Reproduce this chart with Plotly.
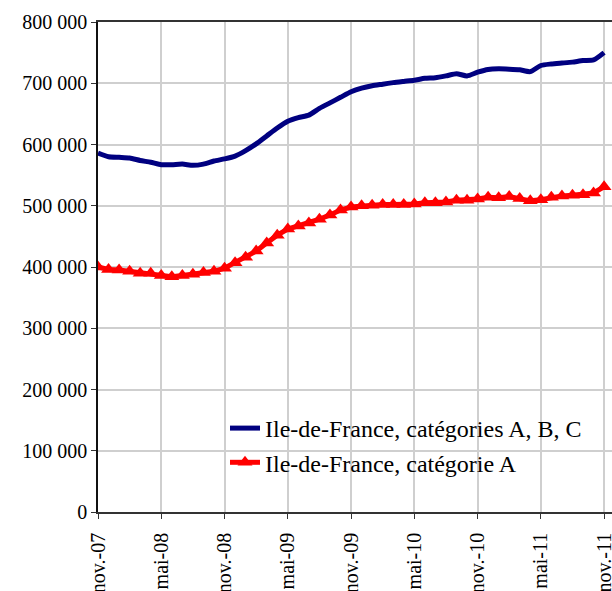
import plotly.graph_objects as go

months = ["nov.-07", "déc.-07",
          "janv.-08", "févr.-08", "mars-08", "avr.-08", "mai-08", "juin-08",
          "juil.-08", "août-08", "sept.-08", "oct.-08", "nov.-08", "déc.-08",
          "janv.-09", "févr.-09", "mars-09", "avr.-09", "mai-09", "juin-09",
          "juil.-09", "août-09", "sept.-09", "oct.-09", "nov.-09", "déc.-09",
          "janv.-10", "févr.-10", "mars-10", "avr.-10", "mai-10", "juin-10",
          "juil.-10", "août-10", "sept.-10", "oct.-10", "nov.-10", "déc.-10",
          "janv.-11", "févr.-11", "mars-11", "avr.-11", "mai-11", "juin-11",
          "juil.-11", "août-11", "sept.-11", "oct.-11", "nov.-11"]

abc = [586000, 580000, 579000, 578000, 574000, 571000, 567000, 567000,
       568000, 566000, 568000, 573000, 576500, 581000, 590000, 601000,
       614000, 627000, 638000, 644000, 648000, 659000, 668000, 677000,
       686000, 692000, 696000, 698500, 701000, 703000, 705000, 708000,
       709000, 712000, 715500, 712000, 718000, 722500, 723500, 723000,
       722000, 719000, 729000, 731500, 733000, 734500, 737000, 738000,
       750000]

cat_a = [400000, 396000, 395000, 393000, 390000, 390000, 386000, 384000,
         386000, 388000, 391000, 393000, 398000, 407000, 416000, 426000,
         439000, 452000, 462000, 467000, 472000, 478000, 485000, 493000,
         498000, 500000, 501000, 502000, 502000, 502000, 503000, 505000,
         505000, 506000, 509000, 509000, 511000, 514000, 513000, 515000,
         512000, 508000, 510000, 514000, 516000, 517000, 518000, 521000,
         531000]

x_ticks = [m for i, m in enumerate(months) if i % 6 == 0]
y_ticks = list(range(0, 800001, 100000))
y_labels = ["0" if v == 0 else f"{v // 1000} 000" for v in y_ticks]

font_family = "'Liberation Serif', 'Times New Roman', 'DejaVu Serif', serif"

fig = go.Figure()
fig.add_trace(go.Scatter(
    x=months, y=abc, mode="lines",
    name="Ile-de-France, catégories A, B, C",
    line=dict(color="#000080", width=5, shape="spline", smoothing=0.6),
))
fig.add_trace(go.Scatter(
    x=months, y=cat_a, mode="lines+markers",
    name="Ile-de-France, catégorie A",
    line=dict(color="#FF0000", width=5),
    marker=dict(symbol="triangle-up", size=13, color="#FF0000"),
))

# white background box behind the legend (covers the grid like the original)
fig.add_shape(
    type="rect", xref="paper", yref="paper", layer="below",
    x0=(198 - 98) / 514, x1=(595 - 98) / 514,
    y0=(512 - 478) / 490, y1=(512 - 413) / 490,
    fillcolor="white", line=dict(width=0),
)

fig.update_layout(
    width=612, height=591,
    margin=dict(l=98, r=0, t=22, b=79),
    paper_bgcolor="white", plot_bgcolor="white",
    font=dict(family=font_family, size=20, color="black"),
    showlegend=True,
    legend=dict(
        x=(225 - 98) / 514, y=(512 - 406) / 490, xanchor="left", yanchor="top",
        bgcolor="rgba(255,255,255,0)", borderwidth=0,
        font=dict(family=font_family, size=24, color="black"),
        tracegroupgap=0, itemwidth=30,
    ),
    xaxis=dict(
        type="category", categoryorder="array", categoryarray=months,
        range=[0, 48.75],
        tickmode="array", tickvals=x_ticks, ticktext=x_ticks,
        tickangle=-90, ticks="outside", ticklen=5, tickcolor="#333333",
        ticklabelstandoff=6,
        showgrid=True, gridcolor="#cfcfcf", gridwidth=1.5,
        showline=True, linecolor="#333333", linewidth=1.5, mirror=True,
        zeroline=False, automargin=False,
    ),
    yaxis=dict(
        range=[0, 800000],
        tickmode="array", tickvals=y_ticks, ticktext=y_labels,
        ticks="outside", ticklen=5, tickcolor="#333333",
        showgrid=True, gridcolor="#cfcfcf", gridwidth=1.5,
        showline=True, linecolor="#111111", linewidth=1.5,
        zeroline=False, automargin=False,
    ),
)

fig.write_html(
    "out.html",
    config={"displayModeBar": False},
    post_script="document.body.style.margin='0';document.body.style.overflow='hidden';",
)
